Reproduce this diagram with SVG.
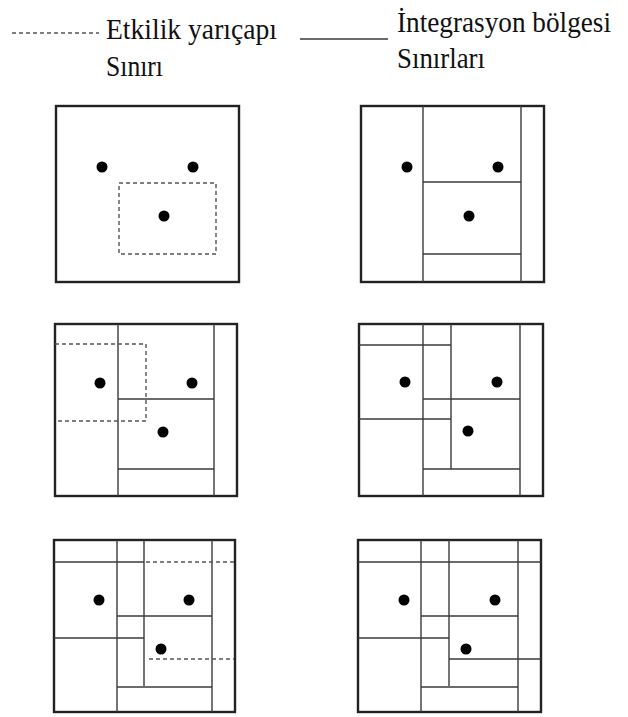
<svg xmlns="http://www.w3.org/2000/svg" width="628" height="717" viewBox="0 0 628 717">
<style>
.t{font-family:"Liberation Serif","Times New Roman",serif;font-size:29px;fill:#111}
.outer{fill:none;stroke:#222;stroke-width:2.4}
.in{fill:none;stroke:#3a3a3a;stroke-width:1.4}
.dash{fill:none;stroke:#555;stroke-width:1.4;stroke-dasharray:4 3}
.dot{fill:#000}
</style>
<rect width="628" height="717" fill="#fff"/>
<g id="legend">
<line class="dash" x1="12" y1="33" x2="99" y2="33"/>
<text class="t" x="106" y="39" textLength="171" lengthAdjust="spacingAndGlyphs">Etkilik yarıçapı</text>
<text class="t" x="106" y="76" textLength="57" lengthAdjust="spacingAndGlyphs">Sınırı</text>
<line class="in" x1="300" y1="39" x2="388" y2="39"/>
<text class="t" x="397" y="32" textLength="214" lengthAdjust="spacingAndGlyphs">İntegrasyon bölgesi</text>
<text class="t" x="397" y="68" textLength="88" lengthAdjust="spacingAndGlyphs">Sınırları</text>
</g>
<g id="panel1">
<rect class="outer" x="56" y="106" width="183" height="176"/>
<rect class="dash" x="119" y="183" width="97" height="71"/>
<circle class="dot" cx="102" cy="167" r="5.5"/>
<circle class="dot" cx="193" cy="167" r="5.5"/>
<circle class="dot" cx="164" cy="216" r="5.5"/>
</g>
<g id="panel2">
<rect class="outer" x="361" y="106" width="183" height="176"/>
<g class="in">
<line x1="423" y1="106" x2="423" y2="282"/>
<line x1="521" y1="106" x2="521" y2="282"/>
<line x1="423" y1="182" x2="521" y2="182"/>
<line x1="423" y1="254" x2="521" y2="254"/>
</g>
<circle class="dot" cx="407" cy="167" r="5.5"/>
<circle class="dot" cx="498" cy="167" r="5.5"/>
<circle class="dot" cx="469" cy="216" r="5.5"/>
</g>
<g id="panel3">
<rect class="outer" x="55" y="324" width="182" height="172"/>
<g class="in">
<line x1="118" y1="324" x2="118" y2="496"/>
<line x1="214" y1="324" x2="214" y2="496"/>
<line x1="118" y1="399" x2="214" y2="399"/>
<line x1="118" y1="469" x2="214" y2="469"/>
</g>
<polyline class="dash" points="55,344 146,344 146,421 55,421"/>
<circle class="dot" cx="100" cy="383" r="5.5"/>
<circle class="dot" cx="192" cy="383" r="5.5"/>
<circle class="dot" cx="163" cy="432" r="5.5"/>
</g>
<g id="panel4">
<rect class="outer" x="359" y="324" width="184" height="172"/>
<g class="in">
<line x1="423" y1="324" x2="423" y2="496"/>
<line x1="451" y1="324" x2="451" y2="469"/>
<line x1="520" y1="324" x2="520" y2="496"/>
<line x1="359" y1="345" x2="451" y2="345"/>
<line x1="423" y1="399" x2="520" y2="399"/>
<line x1="359" y1="419" x2="451" y2="419"/>
<line x1="423" y1="469" x2="520" y2="469"/>
</g>
<circle class="dot" cx="405" cy="382" r="5.5"/>
<circle class="dot" cx="497" cy="382" r="5.5"/>
<circle class="dot" cx="468" cy="431" r="5.5"/>
</g>
<g id="panel5">
<rect class="outer" x="54" y="540" width="181" height="172"/>
<g class="in">
<line x1="117" y1="540" x2="117" y2="712"/>
<line x1="144" y1="540" x2="144" y2="686"/>
<line x1="212" y1="540" x2="212" y2="712"/>
<line x1="54" y1="562" x2="144" y2="562"/>
<line x1="117" y1="616" x2="212" y2="616"/>
<line x1="54" y1="638" x2="144" y2="638"/>
<line x1="117" y1="687" x2="212" y2="687"/>
</g>
<line class="dash" x1="146" y1="562" x2="234" y2="562"/>
<line class="dash" x1="149" y1="659" x2="234" y2="659"/>
<circle class="dot" cx="99" cy="600" r="5.5"/>
<circle class="dot" cx="189" cy="600" r="5.5"/>
<circle class="dot" cx="161" cy="649" r="5.5"/>
</g>
<g id="panel6">
<rect class="outer" x="358" y="540" width="183" height="172"/>
<g class="in">
<line x1="421" y1="540" x2="421" y2="712"/>
<line x1="449" y1="540" x2="449" y2="686"/>
<line x1="518" y1="540" x2="518" y2="712"/>
<line x1="358" y1="562" x2="541" y2="562"/>
<line x1="421" y1="616" x2="518" y2="616"/>
<line x1="358" y1="638" x2="449" y2="638"/>
<line x1="449" y1="659" x2="541" y2="659"/>
<line x1="421" y1="687" x2="518" y2="687"/>
</g>
<circle class="dot" cx="404" cy="600" r="5.5"/>
<circle class="dot" cx="495" cy="600" r="5.5"/>
<circle class="dot" cx="466" cy="649" r="5.5"/>
</g>
</svg>
